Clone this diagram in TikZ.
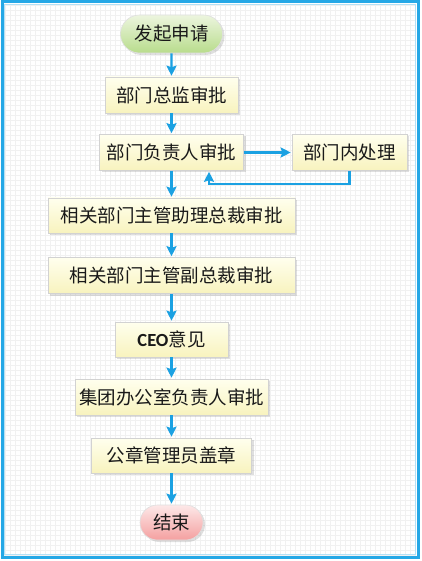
\documentclass[tikz,border=0pt]{standalone}
\usepackage{fontspec}
\usepackage{tikz}
\usetikzlibrary{shapes.misc,shadows,arrows.meta}
\newfontfamily\cjk{Noto Sans CJK SC}
\newfontfamily\ceofont{Carlito}
\definecolor{flowblue}{RGB}{27,161,226}
\definecolor{frameblue}{RGB}{38,168,230}
\definecolor{boxtop}{RGB}{255,255,238}
\definecolor{boxbot}{RGB}{248,243,190}
\definecolor{greentop}{RGB}{236,245,222}
\definecolor{greenbot}{RGB}{184,220,140}
\definecolor{pinktop}{RGB}{253,232,232}
\definecolor{pinkbot}{RGB}{244,160,160}

\begin{document}
\begin{tikzpicture}[x=1pt,y=-1pt,
    task/.style={draw=gray!35,line width=.6pt,top color=boxtop,bottom color=boxbot,
      minimum height=36pt,inner sep=0pt,text=black!90,
      drop shadow={shadow xshift=2pt,shadow yshift=-2pt,opacity=.25,fill=gray},
      font=\cjk\fontsize{18.5}{18.5}\selectfont},
    term/.style={task,rounded rectangle,draw=gray!25},
    flow/.style={draw=flowblue,line width=2.2pt,-{Stealth[length=10pt,width=10pt,inset=1.5pt]},shorten >=1pt},
    gridline/.style={gray!11,line width=.3pt}]
  \useasboundingbox (0,0) rectangle (421,561);
  \fill[white] (0,0) rectangle (421,561);
  \foreach \i in {5,10,...,415} \draw[gridline] (\i,4) -- (\i,555);
  \foreach \j in {5,10,...,555} \draw[gridline] (4,\j) -- (416,\j);
  \draw[frameblue,line width=3pt] (2,2) rectangle (418,557);
  \draw[frameblue!35,line width=1pt] (4.5,4.5) rectangle (415.5,554.5);

  \node[term,top color=greentop,bottom color=greenbot,minimum width=102pt,minimum height=38pt] (start) at (171.5,34) {发起申请};
  \node[task,minimum width=133pt] (n1) at (171.5,95) {部门总监审批};
  \node[task,minimum width=144pt] (n2) at (171.5,152.5) {部门负责人审批};
  \node[task,minimum width=115pt] (side) at (349.5,152.5) {部门内处理};
  \node[task,minimum width=247pt,minimum height=35pt] (n3) at (171.5,215.5) {相关部门主管助理总裁审批};
  \node[task,minimum width=247pt] (n4) at (171.5,275.5) {相关部门主管副总裁审批};
  \node[task,minimum width=113pt,minimum height=35pt] (n5) at (171.5,339.5) {{\ceofont\bfseries CEO}意见};
  \node[task,minimum width=193pt] (n6) at (171.5,397) {集团办公室负责人审批};
  \node[task,minimum width=160pt,minimum height=35pt] (n7) at (171.5,455.5) {公章管理员盖章};
  \node[term,top color=pinktop,bottom color=pinkbot,minimum width=63pt,minimum height=35pt] (end) at (171.5,522.5) {结束};

  \foreach \a/\b in {start/n1,n1/n2,n2/n3,n3/n4,n4/n5,n5/n6,n6/n7,n7/end}
    \draw[flow] (\a) -- (\b);
  \draw[flow] (n2) -- (side);
  \draw[flow] (side.south) -- ++(0,13) -| ([xshift=37.5pt]n2.south);
\end{tikzpicture}
\end{document}
